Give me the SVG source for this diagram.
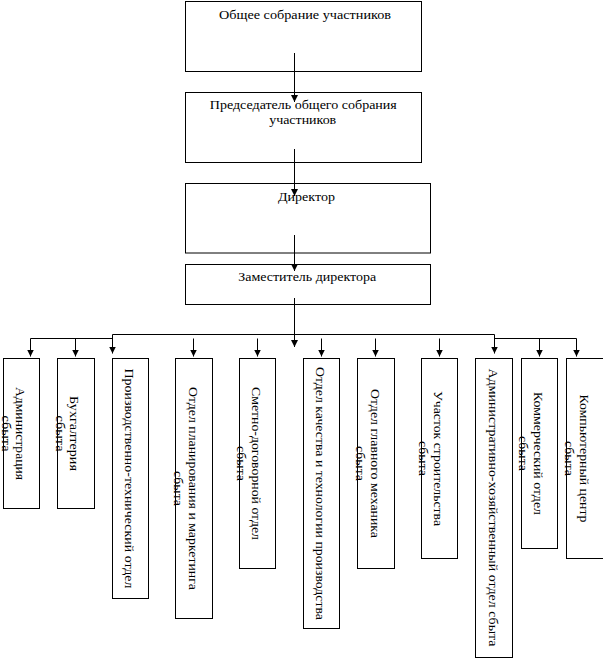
<svg xmlns="http://www.w3.org/2000/svg" width="603" height="659" viewBox="0 0 603 659">
<defs>
<marker id="arr" markerUnits="userSpaceOnUse" markerWidth="8" markerHeight="8" viewBox="0 0 8 8" refX="7" refY="3.5" orient="auto">
<path d="M0,0 L7,3.5 L0,7 z" fill="#000"/>
</marker>
<style>
.box{fill:#fff;stroke:#000;stroke-width:1}
.t{font-family:"Liberation Serif","Times New Roman",serif;font-size:13.5px;fill:#000;text-anchor:middle}
.c{fill:none;stroke:#000;stroke-width:1}
.a{marker-end:url(#arr)}
</style>
</defs>
<rect width="603" height="659" fill="#fff"/>
<g id="n-general">
<rect class="box" x="185.5" y="1.5" width="236" height="70"/>
<text class="t" x="305" y="19" textLength="172" lengthAdjust="spacingAndGlyphs">Общее собрание участников</text>
</g>
<g id="n-chairman">
<rect class="box" x="185.5" y="92.5" width="236" height="70"/>
<text class="t" x="303.3" y="108.5" textLength="187" lengthAdjust="spacingAndGlyphs">Председатель общего собрания</text>
<text class="t" x="302.7" y="123.5" textLength="67" lengthAdjust="spacingAndGlyphs">участников</text>
</g>
<g id="n-director">
<rect class="box" x="185.5" y="183.5" width="245" height="69.5"/>
<text class="t" x="306.5" y="201" textLength="57" lengthAdjust="spacingAndGlyphs">Директор</text>
</g>
<g id="n-deputy">
<rect class="box" x="185.5" y="264.5" width="245" height="40"/>
<text class="t" x="307.2" y="281" textLength="138" lengthAdjust="spacingAndGlyphs">Заместитель директора</text>
</g>
<g id="connectors">
<path class="c a" d="M294.5 53 V102"/>
<path class="c a" d="M294.5 149 V196"/>
<path class="c a" d="M294.5 235 V271"/>
<path class="c a" d="M294.5 298 V347"/>
<path class="c" d="M112.5 334.5 H494.5"/>
<path class="c" d="M30.5 338.5 H112.5"/>
<path class="c a" d="M112.5 334.5 V353.5"/>
<path class="c a" d="M30.5 338.5 V356.5"/>
<path class="c a" d="M75.5 338.5 V356.5"/>
<path class="c a" d="M193.5 338.5 V356.5"/>
<path class="c a" d="M257.5 338.5 V356.5"/>
<path class="c a" d="M321.5 338.5 V356.5"/>
<path class="c a" d="M375.5 338.5 V356.5"/>
<path class="c a" d="M439.5 338.5 V356.5"/>
<path class="c a" d="M494.5 334.5 V353.5"/>
<path class="c" d="M494.5 338.5 H576.5"/>
<path class="c a" d="M539.5 338.5 V356.5"/>
<path class="c a" d="M576.5 338.5 V356.5"/>
</g>
<g id="n-admin">
<rect class="box" x="3.5" y="358.5" width="36" height="150"/>
<text class="t" transform="translate(16,433.5) rotate(90)" textLength="93" lengthAdjust="spacingAndGlyphs">Администрация</text>
<text class="t" transform="translate(1.5,433.5) rotate(90)" textLength="36" lengthAdjust="spacingAndGlyphs">сбыта</text>
</g>
<g id="n-accounting">
<rect class="box" x="57.5" y="358.5" width="37" height="150"/>
<text class="t" transform="translate(70,433.5) rotate(90)" textLength="75" lengthAdjust="spacingAndGlyphs">Бухгалтерия</text>
<text class="t" transform="translate(55.5,433.5) rotate(90)" textLength="36" lengthAdjust="spacingAndGlyphs">сбыта</text>
</g>
<g id="n-pto">
<rect class="box" x="112.5" y="358.5" width="36" height="240"/>
<text class="t" transform="translate(125,478.5) rotate(90)" textLength="220" lengthAdjust="spacingAndGlyphs">Производственно-технический отдел</text>
</g>
<g id="n-planning">
<rect class="box" x="175.5" y="358.5" width="37" height="260"/>
<text class="t" transform="translate(188.5,488.5) rotate(90)" textLength="203" lengthAdjust="spacingAndGlyphs">Отдел планирования и маркетинга</text>
<text class="t" transform="translate(173.5,488.5) rotate(90)" textLength="35" lengthAdjust="spacingAndGlyphs">сбыта</text>
</g>
<g id="n-estimate">
<rect class="box" x="239.5" y="358.5" width="36" height="210"/>
<text class="t" transform="translate(252,463.5) rotate(90)" textLength="153" lengthAdjust="spacingAndGlyphs">Сметно-договорной отдел</text>
<text class="t" transform="translate(237,463.5) rotate(90)" textLength="35" lengthAdjust="spacingAndGlyphs">сбыта</text>
</g>
<g id="n-quality">
<rect class="box" x="303.5" y="358.5" width="36" height="270"/>
<text class="t" transform="translate(316,493.5) rotate(90)" textLength="253" lengthAdjust="spacingAndGlyphs">Отдел качества и технологии производства</text>
</g>
<g id="n-mechanic">
<rect class="box" x="357.5" y="358.5" width="37" height="210"/>
<text class="t" transform="translate(370.5,463.5) rotate(90)" textLength="149" lengthAdjust="spacingAndGlyphs">Отдел главного механика</text>
<text class="t" transform="translate(355.5,463.5) rotate(90)" textLength="35" lengthAdjust="spacingAndGlyphs">сбыта</text>
</g>
<g id="n-construction">
<rect class="box" x="421.5" y="358.5" width="36" height="200"/>
<text class="t" transform="translate(434,458.5) rotate(90)" textLength="135" lengthAdjust="spacingAndGlyphs">Участок строительства</text>
<text class="t" transform="translate(418.5,458.5) rotate(90)" textLength="35" lengthAdjust="spacingAndGlyphs">сбыта</text>
</g>
<g id="n-ahd">
<rect class="box" x="475.5" y="358.5" width="37" height="299"/>
<text class="t" transform="translate(488.5,507.5) rotate(90)" textLength="278" lengthAdjust="spacingAndGlyphs">Административно-хозяйственный отдел сбыта</text>
</g>
<g id="n-commercial">
<rect class="box" x="521.5" y="358.5" width="36" height="190"/>
<text class="t" transform="translate(534,453.5) rotate(90)" textLength="123" lengthAdjust="spacingAndGlyphs">Коммерческий отдел</text>
<text class="t" transform="translate(518.5,453.5) rotate(90)" textLength="35" lengthAdjust="spacingAndGlyphs">сбыта</text>
</g>
<g id="n-computer">
<rect class="box" x="566.5" y="358.5" width="40" height="200"/>
<text class="t" transform="translate(580,458.5) rotate(90)" textLength="128" lengthAdjust="spacingAndGlyphs">Компьютерный центр</text>
<text class="t" transform="translate(564.5,458.5) rotate(90)" textLength="35" lengthAdjust="spacingAndGlyphs">сбыта</text>
</g>
</svg>
